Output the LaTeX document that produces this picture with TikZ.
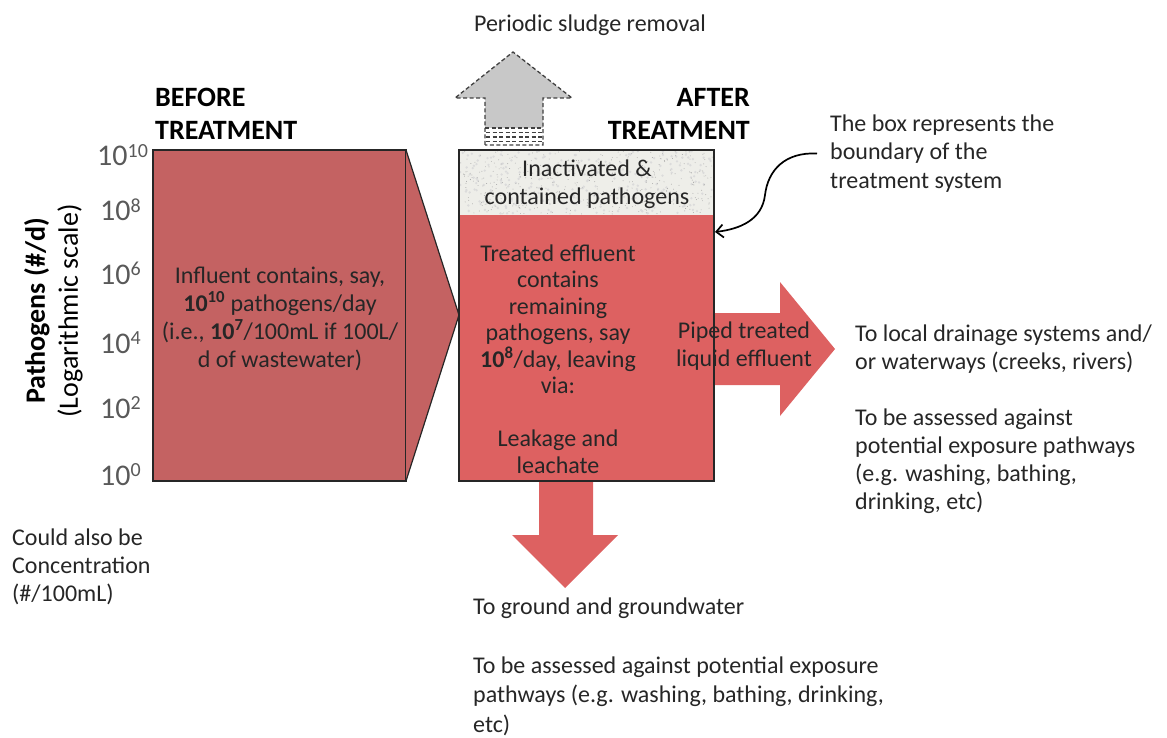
\documentclass[tikz,border=0pt]{standalone}
\usepackage{fontspec}
\setmainfont{Carlito}
\usetikzlibrary{arrows.meta}
\definecolor{leftred}{RGB}{196,98,98}
\definecolor{rightred}{RGB}{221,97,97}
\definecolor{sludgegray}{RGB}{200,200,200}
\definecolor{inactgray}{RGB}{238,238,233}
\definecolor{txtcol}{RGB}{38,38,38}
\definecolor{axcol}{RGB}{89,89,89}
\newcommand\axexp[1]{\raisebox{8.5pt}{\fontsize{20}{20}\selectfont #1}}
\begin{document}
\begin{tikzpicture}[x=1pt,y=-1pt,
  txt/.style={font=\fontsize{24}{28}\selectfont, text=txtcol, inner sep=0pt},
  headtxt/.style={font=\bfseries\fontsize{28}{33}\selectfont, inner sep=0pt, text=black},
  axnum/.style={font=\fontsize{30}{34}\selectfont, text=axcol, inner sep=0pt, anchor=base west},
  boxline/.style={draw=black!85, line width=1.2pt},
  dashline/.style={draw=black!75, line width=1.3pt, dash pattern=on 4pt off 2.5pt},
  pointer/.style={draw=black, line width=1.7pt, -{Straight Barb[length=7pt,width=13pt]}},
]
\useasboundingbox (0,0) rectangle (1167,738);

% sludge removal arrow (dashed, grey)
\fill[sludgegray] (485,128) -- (485,98) -- (455,98) -- (513,52) -- (572,98) -- (543,98) -- (543,128) -- cycle;
\foreach \yy in {132.5,137,141.5}
  \draw[dashline] (486,\yy) -- (542,\yy);
\draw[dashline] (485,128) -- (543,128);
\draw[dashline] (485,145) -- (485,98) -- (455,98) -- (513,52) -- (572,98) -- (543,98) -- (543,145) -- cycle;

% before treatment box with arrow point
\draw[boxline, fill=leftred] (153,150) rectangle (406,481);
\draw[boxline, fill=leftred] (406,150) -- (459,315) -- (406,481);

% outgoing arrows
\fill[rightred] (700,313) -- (780,313) -- (780,282) -- (835,349) -- (780,416) -- (780,385) -- (700,385) -- cycle;
\fill[rightred] (539,470) -- (593,470) -- (593,535) -- (618,535) -- (565,588) -- (512,535) -- (539,535) -- cycle;

% after treatment box
\fill[inactgray] (459,150) rectangle (714,215);
\pgfmathsetseed{4242}
\foreach \i in {1,...,260}
  \fill[black!14] ({460+253*rnd},{151+63*rnd}) circle (1.3);
\foreach \i in {1,...,420}
  \fill[black!35] ({460+253*rnd},{151+63*rnd}) circle (0.45);
\fill[rightred] (459,215) rectangle (714,481);
\draw[boxline] (459,150) rectangle (714,481);
\coordinate (bnd) at (715,232);

% texts
\node[txt] (sludge) at (590,25) {Periodic sludge removal};
\node[headtxt, anchor=west, align=left] (before) at (155,113.5) {BEFORE\\TREATMENT};
\node[headtxt, anchor=east, align=right] (after) at (750,113.5) {AFTER\\TREATMENT};

\node[axnum] (n10) at (97,166) {10\axexp{10}};
\node[axnum] (n8) at (100,221) {10\axexp{8}};
\node[axnum] (n6) at (100,284) {10\axexp{6}};
\node[axnum] (n4) at (100,353) {10\axexp{4}};
\node[axnum] (n2) at (100,418) {10\axexp{2}};
\node[axnum] (n0) at (100,485) {10\axexp{0}};

\node[font=\fontsize{28}{33}\selectfont, text=black, inner sep=0pt, rotate=90, align=center] (axtitle) at (53.5,311)
  {\textbf{Pathogens (\#/d)}\\(Logarithmic scale)};

\node[txt, align=center] (influent) at (280,318.5)
  {Influent contains, say,\\\textbf{10\textsuperscript{10}} pathogens/day\\(i.e., \textbf{10\textsuperscript{7}}/100mL if 100L/\\d of wastewater)};

\node[txt, align=center] (inact) at (587,184.5)
  {Inactivated \&\\contained pathogens};

\node[txt, align=center, font=\fontsize{24}{26.5}\selectfont] (treated) at (558,359.2)
  {Treated effluent\\contains\\remaining\\pathogens, say\\\textbf{10\textsuperscript{8}}/day, leaving\\via:\\[26.5pt]Leakage and\\leachate};

\node[txt, align=center] (piped) at (744,346) {Piped treated\\liquid effluent};

\node[txt, anchor=west, align=left, font=\fontsize{24}{28.5}\selectfont] (note) at (830,153.5)
  {The box represents the\\boundary of the\\treatment system};

\node[txt, anchor=west, align=left] (drain) at (855,419)
  {To local drainage systems and/\\or waterways (creeks, rivers)\\[28pt]To be assessed against\\potential exposure pathways\\(e.g. washing, bathing,\\drinking, etc)};

\node[txt, anchor=west, align=left, font=\fontsize{24}{29.5}\selectfont] (ground) at (473,666.5)
  {To ground and groundwater\\[29.5pt]To be assessed against potential exposure\\pathways (e.g. washing, bathing, drinking,\\etc)};

\node[txt, anchor=west, align=left] (conc) at (12,566.5)
  {Could also be\\Concentration\\(\#/100mL)};

% pointer to the box boundary
\draw[pointer] ([xshift=-13pt]note.west) .. controls (785,152) and (768,170) .. (765,195)
  .. controls (762,220) and (740,229) .. (bnd);
\end{tikzpicture}
\end{document}
